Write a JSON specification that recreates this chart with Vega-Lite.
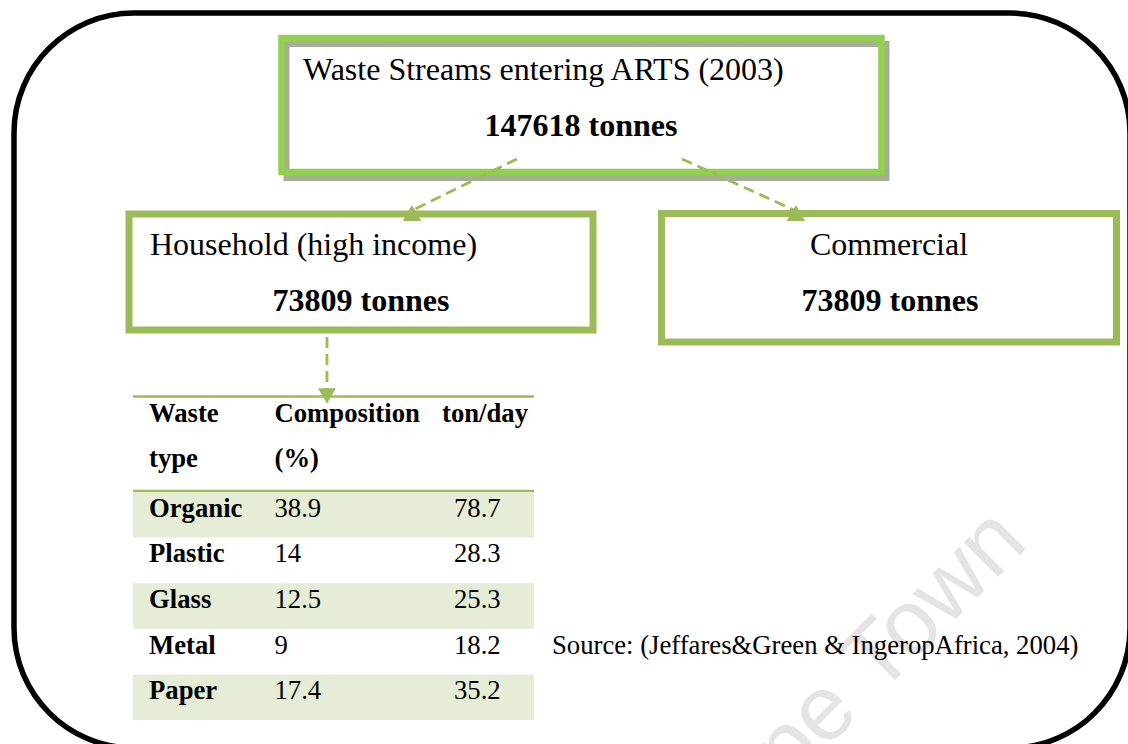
{
  "$schema": "https://vega.github.io/schema/vega-lite/v6.json",
  "width": 1128,
  "height": 744,
  "padding": 0,
  "autosize": {"type": "fit", "contains": "padding"},
  "background": "white",
  "config": {"view": {"stroke": null}},
  "resolve": {"scale": {"y": "independent"}},
  "layer": [
    {
      "encoding": {
        "x": {"field": "x", "type": "quantitative", "scale": {"domain": [0, 1128], "nice": false, "zero": false}, "axis": null},
        "y": {"field": "y", "type": "quantitative", "scale": {"domain": [0, 744], "nice": false, "zero": false, "reverse": true}, "axis": null}
      },
      "layer": [
        {
          "data": {"values": [{"label": "University of Cape Town", "x": 1030, "y": 545}]},
          "mark": {"type": "text", "clip": true, "angle": -45, "align": "right", "baseline": "alphabetic", "font": "Liberation Sans", "fontSize": 92, "color": "#E4E4E4"},
          "encoding": {"text": {"field": "label"}}
        },
        {
          "data": {"values": [{"x": 14, "x2": 1130, "y": 13, "y2": 748}]},
          "mark": {"type": "rect", "clip": true, "fill": "transparent", "stroke": "#000000", "strokeWidth": 5.5, "cornerRadius": 120},
          "encoding": {"x2": {"field": "x2"}, "y2": {"field": "y2"}}
        },
        {
          "data": {"values": [{"x": 286.5, "x2": 886.5, "y": 44, "y2": 178}]},
          "mark": {"type": "rect", "fill": "transparent", "stroke": "#A6AF96", "strokeWidth": 6},
          "encoding": {"x2": {"field": "x2"}, "y2": {"field": "y2"}}
        },
        {
          "data": {"values": [{"x": 281.5, "x2": 881.5, "y": 38, "y2": 172}]},
          "mark": {"type": "rect", "fill": "transparent", "stroke": "#92D050", "strokeWidth": 6.5},
          "encoding": {"x2": {"field": "x2"}, "y2": {"field": "y2"}}
        },
        {
          "data": {"values": [
            {"box": "Household", "x": 129, "x2": 593, "y": 214, "y2": 330},
            {"box": "Commercial", "x": 661.5, "x2": 1116.5, "y": 213.5, "y2": 342}
          ]},
          "mark": {"type": "rect", "fill": "transparent", "stroke": "#9BBB59", "strokeWidth": 7},
          "encoding": {"x2": {"field": "x2"}, "y2": {"field": "y2"}}
        },
        {
          "data": {"values": [
            {"id": "left", "o": 0, "x": 517, "y": 159},
            {"id": "left", "o": 1, "x": 411, "y": 211},
            {"id": "right", "o": 0, "x": 682, "y": 159},
            {"id": "right", "o": 1, "x": 796, "y": 211},
            {"id": "down", "o": 0, "x": 327, "y": 337},
            {"id": "down", "o": 1, "x": 327, "y": 392}
          ]},
          "mark": {"type": "line", "stroke": "#9BBB59", "strokeWidth": 2.8, "strokeDash": [11, 6]},
          "encoding": {"detail": {"field": "id"}, "order": {"field": "o"}}
        },
        {
          "data": {"values": [
            {"x": 133, "x2": 534, "y": 396.5},
            {"x": 133, "x2": 534, "y": 491}
          ]},
          "mark": {"type": "rule", "stroke": "#9BBB59", "strokeWidth": 2.5},
          "encoding": {"x2": {"field": "x2"}}
        },
        {
          "data": {"values": [
            {"id": "left", "x": 412, "y": 213},
            {"id": "right", "x": 796, "y": 213}
          ]},
          "mark": {"type": "point", "shape": "triangle-up", "filled": true, "color": "#9BBB59", "opacity": 1, "size": 340},
          "encoding": {}
        },
        {
          "data": {"values": [{"id": "down", "x": 327, "y": 396}]},
          "mark": {"type": "point", "shape": "triangle-down", "filled": true, "color": "#9BBB59", "opacity": 1, "size": 320},
          "encoding": {}
        },
        {
          "data": {"values": [
            {"label": "Waste Streams entering ARTS (2003)", "x": 303, "y": 79.5},
            {"label": "Household (high income)", "x": 150, "y": 255}
          ]},
          "mark": {"type": "text", "align": "left", "baseline": "alphabetic", "font": "Liberation Serif", "fontSize": 32, "color": "#000000"},
          "encoding": {"text": {"field": "label"}}
        },
        {
          "data": {"values": [
            {"label": "Commercial", "x": 889, "y": 255}
          ]},
          "mark": {"type": "text", "align": "center", "baseline": "alphabetic", "font": "Liberation Serif", "fontSize": 32, "color": "#000000"},
          "encoding": {"text": {"field": "label"}}
        },
        {
          "data": {"values": [
            {"label": "147618 tonnes", "x": 581, "y": 136},
            {"label": "73809 tonnes", "x": 361, "y": 311},
            {"label": "73809 tonnes", "x": 890, "y": 311}
          ]},
          "mark": {"type": "text", "align": "center", "baseline": "alphabetic", "font": "Liberation Serif", "fontSize": 32, "fontWeight": "bold", "color": "#000000"},
          "encoding": {"text": {"field": "label"}}
        },
        {
          "data": {"values": [
            {"label": "Waste", "x": 149, "y": 421.5},
            {"label": "type", "x": 149, "y": 467},
            {"label": "Composition", "x": 274.5, "y": 421.5},
            {"label": "(%)", "x": 274.5, "y": 467},
            {"label": "ton/day", "x": 442, "y": 421.5}
          ]},
          "mark": {"type": "text", "align": "left", "baseline": "alphabetic", "font": "Liberation Serif", "fontSize": 26.7, "fontWeight": "bold", "color": "#000000"},
          "encoding": {"text": {"field": "label"}}
        },
        {
          "data": {"values": [
            {"label": "Source: (Jeffares&Green & IngeropAfrica, 2004)", "x": 552, "y": 654}
          ]},
          "mark": {"type": "text", "align": "left", "baseline": "alphabetic", "font": "Liberation Serif", "fontSize": 26.7, "color": "#000000"},
          "encoding": {"text": {"field": "label"}}
        }
      ]
    },
    {
      "data": {"values": [
        {"type": "Organic", "composition": "38.9", "tonday": "78.7", "shade": "yes"},
        {"type": "Plastic", "composition": "14", "tonday": "28.3", "shade": "no"},
        {"type": "Glass", "composition": "12.5", "tonday": "25.3", "shade": "yes"},
        {"type": "Metal", "composition": "9", "tonday": "18.2", "shade": "no"},
        {"type": "Paper", "composition": "17.4", "tonday": "35.2", "shade": "yes"}
      ]},
      "encoding": {
        "y": {"field": "type", "type": "nominal", "axis": null, "scale": {"type": "band", "domain": ["Organic", "Plastic", "Glass", "Metal", "Paper"], "range": [492, 720], "paddingInner": 0, "paddingOuter": 0}}
      },
      "layer": [
        {
          "transform": [{"filter": "datum.shade === 'yes'"}],
          "mark": {"type": "rect", "fill": "#E5EDD6"},
          "encoding": {"x": {"datum": 133, "type": "quantitative"}, "x2": {"datum": 534}}
        },
        {
          "mark": {"type": "text", "align": "left", "baseline": "alphabetic", "dy": 2, "font": "Liberation Serif", "fontSize": 26.7, "fontWeight": "bold", "color": "#000000"},
          "encoding": {"x": {"datum": 149, "type": "quantitative"}, "text": {"field": "type"}}
        },
        {
          "mark": {"type": "text", "align": "left", "baseline": "alphabetic", "dy": 2, "font": "Liberation Serif", "fontSize": 26.7, "color": "#000000"},
          "encoding": {"x": {"datum": 274.5, "type": "quantitative"}, "text": {"field": "composition"}}
        },
        {
          "mark": {"type": "text", "align": "left", "baseline": "alphabetic", "dy": 2, "font": "Liberation Serif", "fontSize": 26.7, "color": "#000000"},
          "encoding": {"x": {"datum": 454, "type": "quantitative"}, "text": {"field": "tonday"}}
        }
      ]
    }
  ]
}
